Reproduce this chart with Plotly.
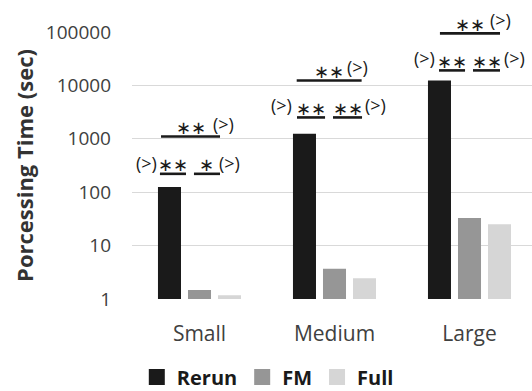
import plotly.graph_objects as go

# Processing time per dataset size (seconds, log scale)
categories = ["Small", "Medium", "Large"]
rerun = [125, 1240, 12300]
fm = [1.47, 3.7, 33]
full = [1.17, 2.45, 25]

y_tick_values = [1, 10, 100, 1000, 10000, 100000]
y_tick_labels = ["1", "10", "100", "1000", "10000", "100000"]

# Significance marks per dataset size
upper_marks = ["∗∗", "∗∗", "∗∗"]          # Rerun vs Full
lower_left_marks = ["∗∗", "∗∗", "∗∗"]     # Rerun vs FM
lower_right_marks = ["∗", "∗∗", "∗∗"]     # FM vs Full
direction_mark = "(>)"

series = [
    ("Rerun", rerun, "#1a1a1a"),
    ("FM", fm, "#969696"),
    ("Full", full, "#d6d6d6"),
]

W, H = 532, 391
M_L, M_R, M_T, M_B = 132, 0, 32, 92
Y_DECADES = 5.0

fig = go.Figure()
xs = list(range(len(categories)))
for name, vals, color in series:
    fig.add_trace(go.Bar(
        x=xs, y=vals, name=name, marker_color=color,
        marker_line_width=0, showlegend=False,
    ))
    # legend swatch drawn as a larger square marker
    fig.add_trace(go.Scatter(
        x=[None], y=[None], mode="markers", name=name,
        marker=dict(symbol="square", size=17, color=color),
        showlegend=True,
    ))

# placement of the significance brackets (category units / log10 heights)
geom = [
    dict(up=(-0.285, 0.152), up_y=3.043, up_gx=0.181, up_gy=3.285,
         lo1=(-0.293, -0.10), lo2=(-0.041, 0.152), lo_y=2.344,
         lo_gx=(-0.396, 0.219), lo_gy=2.556),
    dict(up=(-0.28, 0.201), up_y=4.093, up_gx=0.167, up_gy=4.337,
         lo1=(-0.278, -0.07), lo2=(-0.011, 0.204), lo_y=3.40,
         lo_gx=(-0.393, 0.30), lo_gy=3.625),
    dict(up=(-0.219, 0.226), up_y=4.975, up_gx=0.233, up_gy=5.219,
         lo1=(-0.226, -0.033), lo2=(0.026, 0.226), lo_y=4.281,
         lo_gx=(-0.33, 0.337), lo_gy=4.506),
]

LINE = dict(color="#1a1a1a", width=2.6)
STAR_FONT = dict(family="DejaVu Sans", size=18, color="#1a1a1a")
DIR_FONT = dict(family="Open Sans", size=18, color="#1a1a1a")
STAR_LIFT = 0.17  # log10 distance from a bracket line to its star text


def py(logv):
    return logv / Y_DECADES


def label(x, logy, text, font):
    fig.add_annotation(x=x, y=py(logy), xref="x", yref="paper", text=text,
                       showarrow=False, font=font, xanchor="center", yanchor="middle")


for i, g in enumerate(geom):
    # upper bracket
    x0, x1 = g["up"]
    fig.add_shape(type="line", xref="x", yref="paper", x0=i + x0, x1=i + x1,
                  y0=py(g["up_y"]), y1=py(g["up_y"]), line=LINE)
    label(i + (x0 + x1) / 2, g["up_y"] + STAR_LIFT, upper_marks[i], STAR_FONT)
    label(i + g["up_gx"], g["up_gy"], direction_mark, DIR_FONT)
    # lower brackets
    for (a, b), txt in ((g["lo1"], lower_left_marks[i]), (g["lo2"], lower_right_marks[i])):
        fig.add_shape(type="line", xref="x", yref="paper", x0=i + a, x1=i + b,
                      y0=py(g["lo_y"]), y1=py(g["lo_y"]), line=LINE)
        label(i + (a + b) / 2, g["lo_y"] + STAR_LIFT, txt, STAR_FONT)
    for gx in g["lo_gx"]:
        label(i + gx, g["lo_gy"], direction_mark, DIR_FONT)

fig.update_layout(
    width=W, height=H,
    margin=dict(l=M_L, r=M_R, t=M_T, b=M_B, pad=0, autoexpand=False),
    paper_bgcolor="white", plot_bgcolor="white",
    barmode="group", bargap=0.333, bargroupgap=0.233,
    font=dict(family="Open Sans", color="#404040"),
    legend=dict(orientation="h", x=0.012, xanchor="left",
                yref="container", y=1 - 377 / H, yanchor="middle",
                font=dict(family="Open Sans", size=20, color="#1a1a1a", weight="bold"),
                itemclick=False, tracegroupgap=0),
)
fig.update_xaxes(
    range=[-0.5, 2.463], tickvals=xs, ticktext=categories,
    showgrid=False, zeroline=False, showline=False, ticks="",
    tickfont=dict(size=21, color="#404040"), ticklabelstandoff=20,
)
fig.update_yaxes(
    type="log", range=[0, Y_DECADES], tickvals=y_tick_values, ticktext=y_tick_labels,
    showgrid=True, gridcolor="#d9d9d9", gridwidth=1.3, zeroline=False, showline=False,
    ticks="", tickfont=dict(size=19, color="#404040"), ticklabelstandoff=20,
    title=dict(text="<b>Porcessing Time (sec)</b>", font=dict(size=22, color="#333333"),
               standoff=6),
)

fig.write_html("out.html")
